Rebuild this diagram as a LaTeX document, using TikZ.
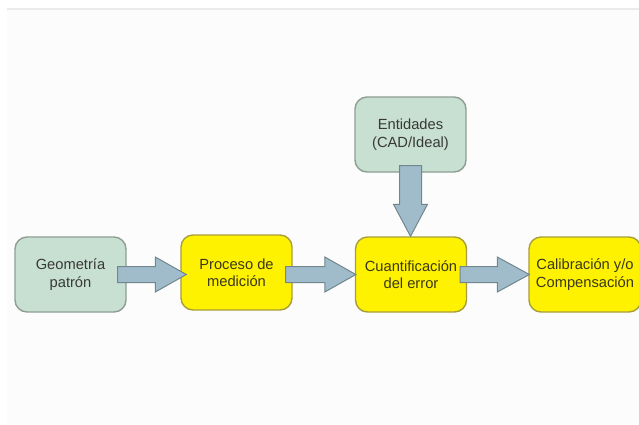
\documentclass[tikz,border=0pt]{standalone}
\usepackage{fontspec}
\setmainfont{Liberation Sans}
\usetikzlibrary{calc}
\definecolor{boxgreen}{HTML}{C8E0D1}
\definecolor{edgegreen}{HTML}{8E9E94}
\definecolor{boxyellow}{HTML}{FFF200}
\definecolor{edgeyellow}{HTML}{A89E3A}
\definecolor{arrowfill}{HTML}{A0BCCB}
\definecolor{arrowedge}{HTML}{71868F}
\definecolor{txt}{HTML}{383838}
\definecolor{txty}{HTML}{3A3818}
\begin{document}
\begin{tikzpicture}[x=1pt,y=-1pt,
  basebox/.style={rounded corners=12pt, line width=1.4pt, minimum width=111pt, minimum height=75pt,
    align=center, text=txt, font=\fontsize{14.7}{17.5}\selectfont, inner sep=0pt},
  greenbox/.style={basebox, fill=boxgreen, draw=edgegreen},
  yellowbox/.style={basebox, fill=boxyellow, draw=edgeyellow, text=txty},
  barrow/.style={fill=arrowfill, draw=arrowedge, line width=1pt, line join=miter}]
\useasboundingbox (0,0) rectangle (639,424);
\fill[white] (0,0) rectangle (639,424);
\fill[black!1] (7,10) rectangle (639,424);
\draw[black!8, line width=2pt] (7,9) -- (639,9);

\node[greenbox] (g) at (70.5,274.5) {Geometría\\patrón};
\node[yellowbox] (p) at (236.5,272.5) {Proceso de\\medición};
\node[yellowbox] (q) at (411,274.5) {Cuantificación\\del error};
\node[yellowbox, minimum width=112pt] (c) at (585,274.5) {Calibración y/o\\Compensación};
\node[greenbox] (e) at (410.5,134.5) {Entidades\\(CAD/Ideal)};

% horizontal block arrows
\draw[barrow] let \p1=([xshift=-9pt]g.east), \p2=([xshift=6pt]p.west) in
  (\x1,\y1+8pt) -- (\x2-31pt,\y1+8pt) -- (\x2-31pt,\y1+17.5pt) -- (\x2,\y1)
  -- (\x2-31pt,\y1-17.5pt) -- (\x2-31pt,\y1-8pt) -- (\x1,\y1-8pt) -- cycle;
\draw[barrow] let \p1=([xshift=-7pt,yshift=-2pt]p.east), \p2=([xshift=1pt]q.west) in
  (\x1,\y1+8pt) -- (\x2-31pt,\y1+8pt) -- (\x2-31pt,\y1+17.5pt) -- (\x2,\y1)
  -- (\x2-31pt,\y1-17.5pt) -- (\x2-31pt,\y1-8pt) -- (\x1,\y1-8pt) -- cycle;
\draw[barrow] let \p1=([xshift=-7pt]q.east), \p2=([xshift=1pt]c.west) in
  (\x1,\y1+8pt) -- (\x2-32pt,\y1+8pt) -- (\x2-32pt,\y1+17.5pt) -- (\x2,\y1)
  -- (\x2-32pt,\y1-17.5pt) -- (\x2-32pt,\y1-8pt) -- (\x1,\y1-8pt) -- cycle;
% vertical block arrow
\draw[barrow] let \p1=([yshift=7pt]e.south), \p2=(q.north) in
  (\x1-11pt,\y1) -- (\x1-11pt,\y2+32pt) -- (\x1-17pt,\y2+32pt) -- (\x1,\y2)
  -- (\x1+17pt,\y2+32pt) -- (\x1+11pt,\y2+32pt) -- (\x1+11pt,\y1) -- cycle;
\end{tikzpicture}
\end{document}
